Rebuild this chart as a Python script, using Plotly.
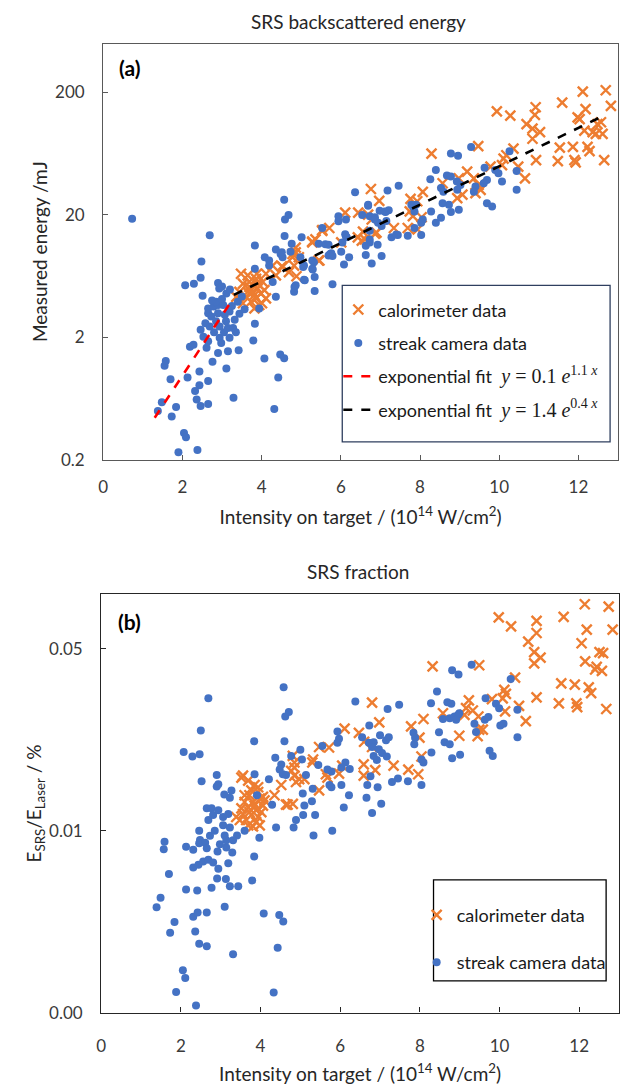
import plotly.graph_objects as go
import math

# ---------------- Panel (a): SRS backscattered energy (mJ) ----------------
cal_a_x = [3.48,3.65,3.86,4.03,3.53,3.69,3.9,3.44,3.78,3.98,3.61,3.86,3.73,3.53,3.94,3.82,4.11,3.82,3.69,3.9,4.07,3.36,3.65,4.01,3.78,3.88,
           4.11,4.28,4.53,4.78,4.86,4.69,4.88,5.28,5.44,5.53,4.36,4.51,4.82,4.94,4.86,4.78,5.46,5.28,5.36,6.01,5.71,5.53,
           6.11,6.44,6.43,6.61,6.56,6.86,7.34,7.69,7.94,8.04,7.93,7.76,8.07,6.97,6.76,6.69,6.78,6.9,6.53,7.82,7.74,
           8.29,8.57,8.94,8.98,9.07,9.19,9.36,9.4,9.48,9.53,9.47,9.78,10.11,10.07,10.18,10.48,10.65,10.36,
           9.94,10.28,10.92,10.9,10.69,10.84,11.03,10.84,10.93,
           11.59,12.11,12.69,12.82,12.18,12.03,11.98,12.57,12.48,12.44,12.61,12.36,12.15,11.53,11.86,12.23,12.28,11.48,11.9,11.93,12.65]
cal_a_y = [6.6,6.4,6.0,5.66,5.48,5.15,5.0,4.7,4.7,4.55,4.28,4.15,3.9,3.79,3.67,3.44,4.15,4.42,5.66,5.48,4.86,4.28,4.7,3.79,5.32,6.6,
           6.6,7.7,7.5,9.57,10.8,6.81,6.3,12.1,8.47,14.8,6.4,7.6,7.7,9.0,9.88,9.0,8.47,11.9,12.6,11.9,15.6,15.0,
           20.8,20.8,13.1,12.6,14.6,14.0,15.6,15.6,15.2,19.1,25.8,27.0,30.8,26.0,32.5,20.1,18.3,14.3,12.3,19.5,21.3,
           63.2,36.2,27.4,39.7,29.2,45.0,39.7,30.1,35.1,32.0,72.8,49.4,57.6,50.9,61.3,49.4,39.7,69.4,
           140,129,151,131,110,101,94.6,83.6,55.9,
           165,203,208,155,146,121,125,114,110,91.7,91.7,94.6,97.5,70.7,71.7,71.7,66.1,54.8,55.9,53.6,55.9]

str_a_x = [0.73,1.38,1.48,1.55,1.58,1.7,1.73,1.84,1.9,2.04,2.09,2.38,2.13,2.07,2.29,2.46,2.48,2.51,2.69,2.19,2.28,2.43,2.43,2.32,2.36,2.46,2.65,
           2.65,2.76,3.11,3.29,2.46,2.53,2.65,2.61,2.69,2.65,2.79,2.9,3.03,2.65,2.73,2.9,3.07,3.19,3.32,3.44,3.57,2.94,3.15,3.28,2.94,3.19,
           2.98,2.9,3.15,3.42,3.79,3.83,4.07,4.47,4.57,4.42,4.32,2.9,2.93,3.11,3.94,
           2.85,3.0,2.75,3.25,3.4,3.1,2.85,3.35,3.05,2.8,2.58,3.5,3.2,3.0,
           3.83,4.08,4.19,4.28,4.36,4.36,4.48,4.53,4.76,4.83,4.82,5.05,5.28,5.34,5.09,5.32,5.69,5.76,5.61,5.79,6.08,6.01,6.21,6.11,
           3.83,4.57,4.59,4.68,4.58,5.01,5.94,5.94,6.36,4.51,4.73,4.98,5.07,5.28,5.29,5.07,4.86,5.34,4.19,5.53,5.44,5.69,5.73,5.79,
           6.13,6.04,6.54,6.69,6.73,6.86,6.94,7.03,6.98,7.13,7.21,7.18,7.46,6.73,6.63,6.93,6.63,6.73,7.03,6.78,7.44,7.69,7.86,8.03,
           8.07,7.82,7.86,8.26,8.28,
           9.29,8.78,8.96,10.26,8.4,8.68,8.78,8.93,9.02,8.94,8.53,8.59,8.73,8.57,9.63,9.9,9.98,9.69,9.61,9.4,9.36,10.07,10.44,10.44,
           9.69,9.82,8.4,8.78,8.98,8.53,6.69,7.11,6.86,7.15,6.73,7.28,7.4,7.9,7.78,8.03,6.13,6.15]
str_a_y = [18.6,0.50,0.59,1.17,1.28,0.91,0.45,0.54,0.23,0.33,0.305,0.24,0.94,5.32,5.48,6.13,8.3,4.36,13.6,1.67,1.74,1.05,0.81,0.73,0.62,0.55,0.57,
           0.88,1.26,1.11,0.64,2.30,2.02,1.86,1.64,2.45,3.44,3.56,3.67,3.67,3.14,2.95,3.14,3.05,3.24,2.78,3.11,3.38,2.45,2.38,2.38,1.98,1.98,
           1.80,1.49,1.54,1.57,1.88,2.58,1.34,1.45,1.35,0.94,0.52,5.56,5.0,4.55,3.44,
           3.9,4.1,4.0,3.6,3.9,2.7,2.7,2.2,2.2,2.2,2.6,4.3,4.9,5.2,
           7.25,9.0,8.47,5.66,4.28,10.4,9.57,9.0,11.6,5.15,4.7,7.5,7.25,6.2,5.84,8.2,9.3,9.7,11.5,5.42,7.85,10.0,9.0,13.9,
           11.25,26.6,18.3,19.9,13.4,13.1,19.5,17.7,30.6,9.88,10.0,9.0,7.7,8.47,7.16,5.9,5.32,4.78,7.7,15.6,11.6,11.4,9.57,9.2,
           13.3,11.9,19.9,23.7,19.5,19.1,17.2,16.2,21.6,21.1,21.8,31.6,34.6,11.9,11.2,11.4,9.4,12.6,9.2,8.0,13.7,13.5,15.6,13.7,
           18.3,23.4,21.3,39.0,21.3,
           71.6,63.2,60.6,66.1,46.4,41.8,41.0,37.4,35.1,32.0,33.1,30.8,24.2,24.9,48.5,46.4,43.6,38.5,36.2,34.1,30.8,37.4,45.5,32.0,
           24.9,23.4,17.2,21.1,22.0,18.9,24.2,21.3,18.3,17.8,14.8,13.1,13.8,24.2,24.2,17.2,18.3,13.1]

# exponential fit lines (end points as drawn)
fit1_x = [1.3, 3.25]
fit1_y = [0.44, 4.0]
fit2_x = [3.3, 12.7]
fit2_y = [4.44, 132]

# ---------------- Panel (b): SRS fraction (%) ----------------
cal_b_x = [6.11,6.47,5.47,5.72,5.32,5.3,4.85,4.81,4.77,4.85,4.97,5.1,4.52,5.47,5.64,5.97,6.05,3.52,3.69,3.85,3.94,3.77,3.6,4.06,4.35,
           6.8,6.98,8.09,7.78,7.99,8.04,7.71,7.96,7.34,6.88,6.59,6.59,5.68,4.89,4.85,4.81,4.68,3.56,4.64,
           3.48,3.56,3.69,3.81,3.98,4.06,3.89,3.77,3.64,3.89,3.81,3.94,4.02,3.72,3.85,3.6,3.52,3.98,3.94,3.72,3.39,4.1,3.69,
           12.14,12.74,11.61,9.98,10.29,10.93,10.93,12.19,12.84,10.72,10.87,11.03,10.87,12.06,12.51,12.6,12.15,12.44,12.57,12.4,
           11.55,11.89,12.24,12.3,11.49,11.93,11.95,12.68,10.93,10.39,10.12,10.16,10.08,10.49,10.66,10.14,9.81,9.49,8.32,
           9.23,9.16,9.33,9.47,9.49,9.58,9.45,8.99,9.12,8.58,6.6,6.8]
cal_b_y = [0.0247,0.0238,0.021,0.0209,0.0188,0.0183,0.0183,0.0194,0.017,0.0163,0.0158,0.0158,0.015,0.0143,0.0165,0.0166,0.0178,0.016,0.0156,0.015,0.0147,0.0143,0.0137,0.0135,0.0137,
           0.0311,0.0261,0.0269,0.0252,0.0228,0.0193,0.0172,0.0165,0.0178,0.0171,0.018,0.0163,0.016,0.0154,0.0175,0.0127,0.0126,0.0163,0.0126,
           0.011,0.0116,0.0123,0.0129,0.0133,0.0125,0.012,0.0115,0.011,0.0108,0.0104,0.0113,0.0118,0.0118,0.0125,0.0129,0.0122,0.0105,0.0141,0.0137,0.0113,0.0131,0.0105,
           0.0743,0.0728,0.0664,0.0661,0.0611,0.0641,0.0576,0.0593,0.0593,0.0534,0.0486,0.0463,0.044,0.0526,0.0486,0.0482,0.0448,0.0427,0.0412,0.0417,
           0.0369,0.0365,0.0356,0.0338,0.0309,0.0309,0.0299,0.0294,0.0326,0.0388,0.0348,0.0336,0.0323,0.0302,0.0264,0.0288,0.0321,0.0433,0.0429,
           0.0317,0.0296,0.029,0.0275,0.0245,0.0245,0.0231,0.0232,0.0279,0.0283,0.022,0.021]

str_b_x = [4.58,2.69,4.62,4.71,6.38,2.5,3.84,4.6,2.07,2.29,2.47,4.37,4.52,4.56,4.64,4.77,5.0,5.04,3.85,2.9,2.94,2.9,2.52,3.09,3.27,4.21,5.06,5.31,
           5.93,5.97,6.13,5.68,5.78,5.73,5.78,6.03,6.24,6.22,5.14,5.55,
           7.19,7.48,8.28,6.73,7.0,5.93,6.55,6.72,6.84,6.8,6.97,7.05,6.84,6.92,7.15,7.22,7.17,7.84,7.88,7.86,8.04,8.09,8.29,7.7,8.04,7.45,7.3,
           4.48,5.45,6.03,5.29,5.1,4.89,5.07,5.37,4.39,4.83,5.8,6.09,6.68,6.66,6.94,6.76,6.8,7.03,
           1.59,1.57,1.7,1.49,1.39,1.84,1.73,2.05,2.11,1.88,2.38,2.46,2.65,2.31,2.42,2.65,2.36,2.13,2.41,2.77,3.1,3.31,2.91,3.13,3.23,3.44,
           3.79,3.84,4.08,4.47,4.57,4.43,4.33,2.13,2.31,2.48,2.46,2.46,2.31,2.44,2.56,2.69,2.81,2.94,3.19,2.61,2.65,2.92,2.98,3.14,3.29,
           2.73,2.85,3.06,3.1,3.23,3.41,3.31,3.14,2.65,2.77,2.69,2.81,2.94,3.06,3.19,3.23,3.6,3.97,3.91,4.29,5.33,
           9.3,8.81,8.97,10.28,8.43,9.65,9.91,9.99,10.45,10.45,8.69,8.79,8.58,8.75,8.87,8.96,8.91,8.99,8.48,8.62,8.75,8.81,9.01,
           9.37,9.41,9.63,9.72,10.02,10.1,9.75,9.83]
str_b_y = [0.0356,0.0323,0.0275,0.0286,0.0314,0.0243,0.0221,0.0221,0.0201,0.0193,0.0197,0.0191,0.018,0.0165,0.0164,0.0194,0.0205,0.0188,0.0165,0.0164,0.0151,0.0148,0.0155,0.0138,0.0143,0.0158,0.0139,0.0145,
           0.0241,0.0226,0.0183,0.0172,0.0169,0.015,0.0147,0.015,0.0173,0.0137,0.0164,0.0212,
           0.0294,0.0305,0.0309,0.0254,0.0233,0.0218,0.0229,0.0218,0.0219,0.021,0.0206,0.0199,0.0194,0.0187,0.0223,0.0229,0.0193,0.0238,0.0228,0.0215,0.0188,0.0183,0.02,0.0155,0.015,0.0159,0.0154,
           0.0172,0.0179,0.0175,0.013,0.0125,0.011,0.0115,0.0115,0.0103,0.0103,0.01,0.0123,0.015,0.0134,0.0147,0.0162,0.0117,0.0127,
           0.00908,0.0085,0.00682,0.00553,0.00508,0.00446,0.00406,0.00291,0.00272,0.0024,0.00213,0.00368,0.0036,0.00467,0.00485,0.00485,0.0041,0.00595,0.0059,0.00604,0.00511,0.00335,0.00655,0.00653,0.00612,0.00612,
           0.00644,0.00796,0.00481,0.00475,0.00448,0.00355,0.00239,0.00869,0.00845,0.00922,0.00895,0.01,0.00723,0.00741,0.00762,0.00774,0.00755,0.00715,0.00751,0.009,0.00857,0.00832,0.00887,0.00862,0.00825,
           0.00957,0.01,0.0105,0.0096,0.0103,0.0096,0.0092,0.0092,0.0122,0.0122,0.011,0.0115,0.012,0.0113,0.0116,0.0134,0.01,0.0094,0.0137,0.0126,0.0096,
           0.0435,0.0414,0.0399,0.0383,0.0343,0.0323,0.0308,0.0296,0.0292,0.0229,0.0312,0.0308,0.0269,0.0271,0.0275,0.0279,0.0267,0.0283,0.0239,0.0219,0.0215,0.019,0.0196,
           0.0258,0.024,0.0267,0.0274,0.0254,0.0258,0.0203,0.0194]

x_ticks = [0, 2, 4, 6, 8, 10, 12]
ya_ticks = [0.2, 2, 20, 200]
ya_text = ["0.2", "2", "20", "200"]
yb_ticks = [0.002, 0.01, 0.05]
yb_text = ["0.00", "0.01", "0.05"]

ORANGE = "#ED7D31"
BLUE = "#4472C4"
FONT = "Lato"
W, H = 621, 1088

fig = go.Figure()

mk_cross = dict(symbol="x-thin", size=10, line=dict(width=2.4, color=ORANGE), color=ORANGE)
mk_dot = dict(symbol="circle", size=8, color=BLUE)

fig.add_trace(go.Scatter(x=cal_a_x, y=cal_a_y, mode="markers", marker=mk_cross, name="calorimeter data",
                         xaxis="x", yaxis="y", legend="legend", legendgroup="a1"))
fig.add_trace(go.Scatter(x=str_a_x, y=str_a_y, mode="markers", marker=mk_dot, name="streak camera data",
                         xaxis="x", yaxis="y", legend="legend", legendgroup="a2"))
eq_style = "font-family:'Liberation Serif';font-size:20px;"
fig.add_trace(go.Scatter(x=fit1_x, y=fit1_y, mode="lines", line=dict(color="#FF0000", width=2.6, dash="dash"),
                         name="exponential fit  <span style=\"" + eq_style + "\"><i>y</i> = 0.1 <i>e</i><sup>1.1 <i>x</i></sup></span>",
                         xaxis="x", yaxis="y", legend="legend", legendgroup="a3"))
fig.add_trace(go.Scatter(x=fit2_x, y=fit2_y, mode="lines", line=dict(color="#000000", width=2.6, dash="dash"),
                         name="exponential fit  <span style=\"" + eq_style + "\"><i>y</i> = 1.4 <i>e</i><sup>0.4 <i>x</i></sup></span>",
                         xaxis="x", yaxis="y", legend="legend", legendgroup="a4"))

fig.add_trace(go.Scatter(x=cal_b_x, y=cal_b_y, mode="markers", marker=mk_cross, name="calorimeter data",
                         xaxis="x2", yaxis="y2", legend="legend2", legendgroup="b1"))
fig.add_trace(go.Scatter(x=str_b_x, y=str_b_y, mode="markers", marker=mk_dot, name="streak camera data",
                         xaxis="x2", yaxis="y2", legend="legend2", legendgroup="b2"))

def px_x(p):
    return p / W

def px_y(p):
    return 1 - p / H

axis_common = dict(showline=True, mirror=True, linewidth=1.3, ticks="inside", ticklen=5, tickwidth=1.3,
                   showgrid=False, zeroline=False, tickfont=dict(family=FONT, size=17, color="#3a3a3a"))
TITLE_FONT = dict(family=FONT, size=19, color="#262626")

fig.update_layout(
    width=W, height=H, margin=dict(l=0, r=0, t=0, b=0),
    paper_bgcolor="white", plot_bgcolor="white",
    font=dict(family=FONT, size=17, color="#262626"),
    xaxis=dict(domain=[px_x(99), px_x(618)], range=[0, 13], tickvals=x_ticks, anchor="y",
               linecolor="#595959", tickcolor="#595959", ticklabelstandoff=12,
               title=dict(text="Intensity on target / (10<sup>14</sup> W/cm<sup>2</sup>)", font=TITLE_FONT, standoff=14),
               **axis_common),
    yaxis=dict(domain=[px_y(464), px_y(44)], type="log", range=[math.log10(0.2), math.log10(500)],
               tickvals=ya_ticks, ticktext=ya_text, anchor="x", linecolor="#595959", tickcolor="#595959",
               ticklabelstandoff=14,
               title=dict(text="Measured energy /mJ", font=TITLE_FONT, standoff=2),
               **axis_common),
    xaxis2=dict(domain=[px_x(97), px_x(619)], range=[0, 13], tickvals=x_ticks, anchor="y2",
                linecolor="#262626", tickcolor="#262626", ticklabelstandoff=18,
                title=dict(text="Intensity on target / (10<sup>14</sup> W/cm<sup>2</sup>)", font=TITLE_FONT, standoff=12),
                **axis_common),
    yaxis2=dict(domain=[px_y(1022), px_y(600)], type="log", range=[math.log10(0.002), math.log10(0.081)],
                tickvals=yb_ticks, ticktext=yb_text, anchor="x2", linecolor="#262626", tickcolor="#262626",
                ticklabelstandoff=14,
                title=dict(text="E<sub>SRS</sub>/E<sub>Laser</sub> / %", font=TITLE_FONT, standoff=2),
                **axis_common),
    legend=dict(x=px_x(336), y=px_y(294), xanchor="left", yanchor="top", bgcolor="rgba(0,0,0,0)",
                borderwidth=0, font=dict(family=FONT, size=18, color="#1a1a1a"),
                traceorder="grouped", tracegroupgap=7, itemwidth=30),
    legend2=dict(x=px_x(415), y=px_y(905), xanchor="left", yanchor="top", bgcolor="rgba(0,0,0,0)",
                 borderwidth=0, font=dict(family=FONT, size=18, color="#1a1a1a"),
                 traceorder="grouped", tracegroupgap=21, itemwidth=30),
    showlegend=True,
)

# legend frames (opaque boxes behind the legend entries)
fig.add_shape(type="rect", xref="paper", yref="paper", x0=px_x(340), x1=px_x(610), y0=px_y(446), y1=px_y(288),
              line=dict(color="#2F3F5F", width=1.3), fillcolor="white", layer="above")
fig.add_shape(type="rect", xref="paper", yref="paper", x0=px_x(432), x1=px_x(606), y0=px_y(990), y1=px_y(888),
              line=dict(color="#000000", width=1.3), fillcolor="white", layer="above")

fig.add_annotation(text="SRS backscattered energy", x=px_x(356), y=px_y(22), xref="paper", yref="paper",
                   xanchor="center", yanchor="middle", showarrow=False, font=TITLE_FONT)
fig.add_annotation(text="SRS fraction", x=px_x(356), y=px_y(577), xref="paper", yref="paper",
                   xanchor="center", yanchor="middle", showarrow=False, font=TITLE_FONT)
fig.add_annotation(text="<b>(a)</b>", x=px_x(113), y=px_y(68), xref="paper", yref="paper", xanchor="left",
                   yanchor="middle", showarrow=False, font=dict(family=FONT, size=21, color="#000000"))
fig.add_annotation(text="<b>(b)</b>", x=px_x(112), y=px_y(627), xref="paper", yref="paper", xanchor="left",
                   yanchor="middle", showarrow=False, font=dict(family=FONT, size=21, color="#000000"))

fig.write_html("out.html")
